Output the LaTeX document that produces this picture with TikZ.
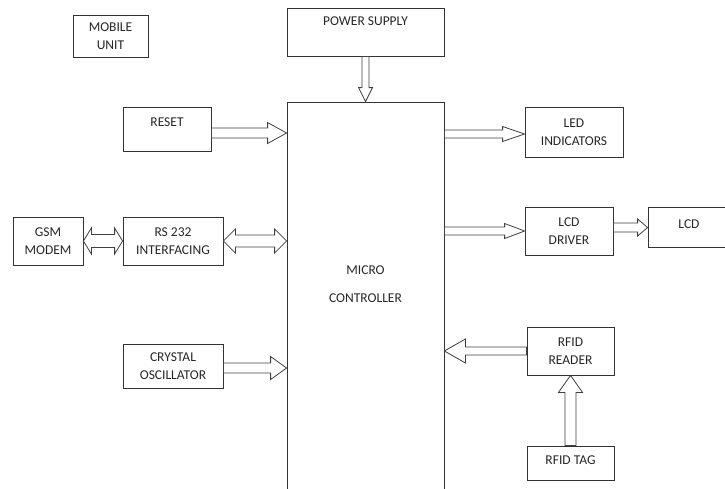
\documentclass[tikz,border=0pt]{standalone}
\usepackage{fontspec}
\setmainfont{Carlito}
\usetikzlibrary{calc}

% point at distance #1 along the connector and #2 across it
\newcommand\blkpt[2]{({\x1+(#1)*\n2-(#2)*\n3},{\y1+(#1)*\n3+(#2)*\n2})}

\tikzset{
  shaftw/.store in=\shaftw, headw/.store in=\headw, headl/.store in=\headl,
  shaftw=4pt, headw=8pt, headl=18pt,
}

\begin{document}
\begin{tikzpicture}[
  x=1pt, y=-1pt,
  box/.style={draw=black!80, line width=0.8pt, align=center, inner sep=0pt,
              text=black!85, font=\fontsize{13.5}{17.5}\selectfont},
  flow/.style={draw=black!75, line width=0.8pt, fill=white, to path={
    let \p1=(\tikztostart), \p2=(\tikztotarget),
        \n1={veclen(\x2-\x1,\y2-\y1)}, \n2={(\x2-\x1)/\n1}, \n3={(\y2-\y1)/\n1} in
    \blkpt{0}{\shaftw} -- \blkpt{\n1-\headl}{\shaftw} -- \blkpt{\n1-\headl}{\headw}
    -- \blkpt{\n1}{0} -- \blkpt{\n1-\headl}{-\headw} -- \blkpt{\n1-\headl}{-\shaftw}
    -- \blkpt{0}{-\shaftw} -- cycle}},
  bothway/.style={draw=black!75, line width=0.8pt, fill=white, to path={
    let \p1=(\tikztostart), \p2=(\tikztotarget),
        \n1={veclen(\x2-\x1,\y2-\y1)}, \n2={(\x2-\x1)/\n1}, \n3={(\y2-\y1)/\n1} in
    \blkpt{0}{0} -- \blkpt{\headl}{\headw} -- \blkpt{\headl}{\shaftw}
    -- \blkpt{\n1-\headl}{\shaftw} -- \blkpt{\n1-\headl}{\headw} -- \blkpt{\n1}{0}
    -- \blkpt{\n1-\headl}{-\headw} -- \blkpt{\n1-\headl}{-\shaftw}
    -- \blkpt{\headl}{-\shaftw} -- \blkpt{\headl}{-\headw} -- cycle}},
]
  \clip (0,0) rectangle (725,488);

  \node[box, minimum width=75, minimum height=42] (mobile) at (110.5,36) {MOBILE\\UNIT};
  \node[box, minimum width=157, minimum height=48, text depth=22] (power) at (365.5,32) {POWER SUPPLY};
  \node[box, minimum width=157, minimum height=390, text depth=26] (mc) at (365.5,297)
    {MICRO\\[10.5pt]CONTROLLER};
  \node[box, minimum width=88, minimum height=44, text depth=14] (reset) at (167,129) {RESET};
  \node[box, minimum width=70, minimum height=48] (gsm) at (48,241) {GSM\\MODEM};
  \node[box, minimum width=100, minimum height=48] (rs) at (173,241) {RS 232\\INTERFACING};
  \node[box, minimum width=100, minimum height=44] (xtal) at (173,366) {CRYSTAL\\OSCILLATOR};
  \node[box, minimum width=98, minimum height=50] (led) at (574,132) {LED\\INDICATORS};
  \node[box, minimum width=88, minimum height=48] (lcddrv) at (569,231) {LCD\\DRIVER};
  \node[box, minimum width=82, minimum height=40, text depth=6] (lcd) at (689,227.5) {LCD};
  \node[box, minimum width=87, minimum height=48] (reader) at (570.5,351) {RFID\\READER};
  \node[box, minimum width=87, minimum height=34, text depth=6] (tag) at (570.5,463) {RFID TAG};

  \draw[flow, shaftw=3.5pt, headw=7pt, headl=14pt] (power.south) to (mc.north);
  \draw[flow, shaftw=5pt, headw=10.5pt, headl=19pt]
    ([yshift=-4pt]reset.east) to ([yshift=-4pt]mc.west |- reset.east);
  \draw[bothway, shaftw=6.5pt, headw=13pt, headl=8pt] (gsm.east) to (rs.west);
  \draw[bothway, shaftw=6pt, headw=12pt, headl=12pt] (rs.east) to (mc.west |- rs.east);
  \draw[flow, shaftw=5pt, headw=11.5pt, headl=16pt]
    ([yshift=-2pt]xtal.east) to ([yshift=-2pt]mc.west |- xtal.east);
  \draw[flow, shaftw=4pt, headw=7.5pt, headl=22pt]
    ([yshift=-2pt]mc.east |- led.west) to ([yshift=-2pt]led.west);
  \draw[flow, shaftw=4pt, headw=7.5pt, headl=20pt] (mc.east |- lcddrv.west) to (lcddrv.west);
  \draw[flow, shaftw=4.5pt, headw=8.5pt, headl=10pt] (lcddrv.east |- lcd.west) to (lcd.west);
  \draw[flow, shaftw=4pt, headw=12pt, headl=21pt] (reader.west) to (mc.east |- reader.west);
  \draw[flow, shaftw=5.5pt, headw=12pt, headl=17pt] (tag.north) to (reader.south);
\end{tikzpicture}
\end{document}
